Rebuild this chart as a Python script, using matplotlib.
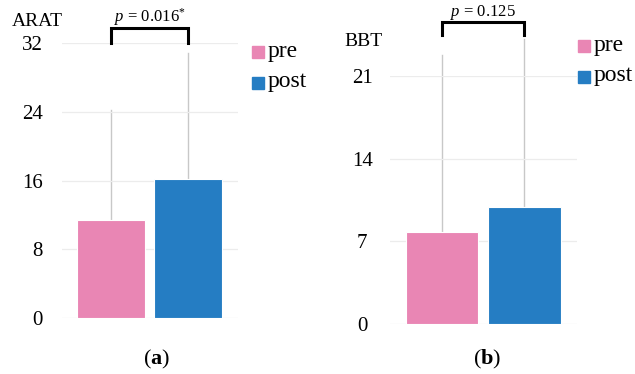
import numpy as np
import matplotlib
matplotlib.use("Agg")
import matplotlib.pyplot as plt

plt.rcParams["font.family"] = "Liberation Serif"
plt.rcParams["mathtext.fontset"] = "custom"
plt.rcParams["mathtext.rm"] = "Liberation Serif"
plt.rcParams["mathtext.it"] = "Liberation Serif:italic"
plt.rcParams["mathtext.bf"] = "Liberation Serif:bold"

GROUPS = ["pre", "post"]
COLORS = ["#E986B4", "#257DC3"]

# ARAT scores: mean and upper error
ARAT_MEAN = [11.4, 16.2]
ARAT_ERR = [12.8, 14.6]
ARAT_TICKS = [0, 8, 16, 24, 32]
ARAT_P = r"$p$ = 0.016$^{*}$"

# BBT scores: mean and upper error
BBT_MEAN = [7.8, 9.9]
BBT_ERR = [15.0, 14.2]
BBT_TICKS = [0, 7, 14, 21]
BBT_P = r"$p$ = 0.125"

W, H = 635, 374


def px_axes(fig, x0, y0, x1, y1):
    # place axes using pixel coords measured from top-left
    return fig.add_axes([x0 / W, (H - y1) / H, (x1 - x0) / W, (y1 - y0) / H])


def panel(ax, means, errs, ticks, ptxt, bracket_y, bracket_top, tick_ha, tick_pad):
    x = np.arange(len(means))
    ax.bar(x, means, width=0.88, color=COLORS, edgecolor="white", linewidth=0.8, zorder=2)
    for xi, m, e in zip(x, means, errs):
        ax.plot([xi, xi], [m, m + e], color="#c8c8c8", lw=1.0, zorder=1, clip_on=False)
    ax.set_xlim(-0.63, 1.64)
    ax.set_ylim(ticks[0], ticks[-1])
    ax.set_yticks(ticks)
    ax.set_yticklabels([str(t) for t in ticks], fontsize=15, ha=tick_ha)
    ax.tick_params(axis="y", length=0, pad=tick_pad)
    ax.set_xticks([])
    for s in ax.spines.values():
        s.set_visible(False)
    ax.grid(axis="y", color="#ececec", lw=0.9, zorder=0)

    # significance bracket
    ax.plot([0, 0, 1, 1], [bracket_y, bracket_top, bracket_top, bracket_y],
            color="black", lw=2.2, clip_on=False, solid_joinstyle="miter")
    ax.text(0.5, bracket_top, ptxt, ha="center", va="bottom", fontsize=12)
    return ax


fig = plt.figure(figsize=(W / 100, H / 100), dpi=100)

ax1 = px_axes(fig, 62, 43, 238, 318)
panel(ax1, ARAT_MEAN, ARAT_ERR, ARAT_TICKS, ARAT_P, 32, 33.8, "right", 14)
fig.text(12 / W, 1 - 21 / H, "ARAT", fontsize=14, va="center", ha="left")

ax2 = px_axes(fig, 390, 76, 577, 324)
panel(ax2, BBT_MEAN, BBT_ERR, BBT_TICKS, BBT_P, 24.5, 25.6, "center", 20)
fig.text(344 / W, 1 - 42 / H, "BBT", fontsize=14, va="center", ha="left")

# legends drawn as squares and labels
for lx, ys in [(252, (52, 83)), (578, (46, 77))]:
    for g, c, ly in zip(GROUPS, COLORS, ys):
        fig.patches.append(plt.Rectangle((lx / W, 1 - (ly + 6) / H), 12 / W, 12 / H,
                                         transform=fig.transFigure, color=c))
        fig.text((lx + 16) / W, 1 - (ly - 1) / H, g, fontsize=17, va="center", ha="left")

fig.text(157 / W, 1 - 359 / H, r"($\mathbf{a}$)", fontsize=16, ha="center", va="center")
fig.text(487 / W, 1 - 359 / H, r"($\mathbf{b}$)", fontsize=16, ha="center", va="center")

fig.savefig("out.png", dpi=100)
